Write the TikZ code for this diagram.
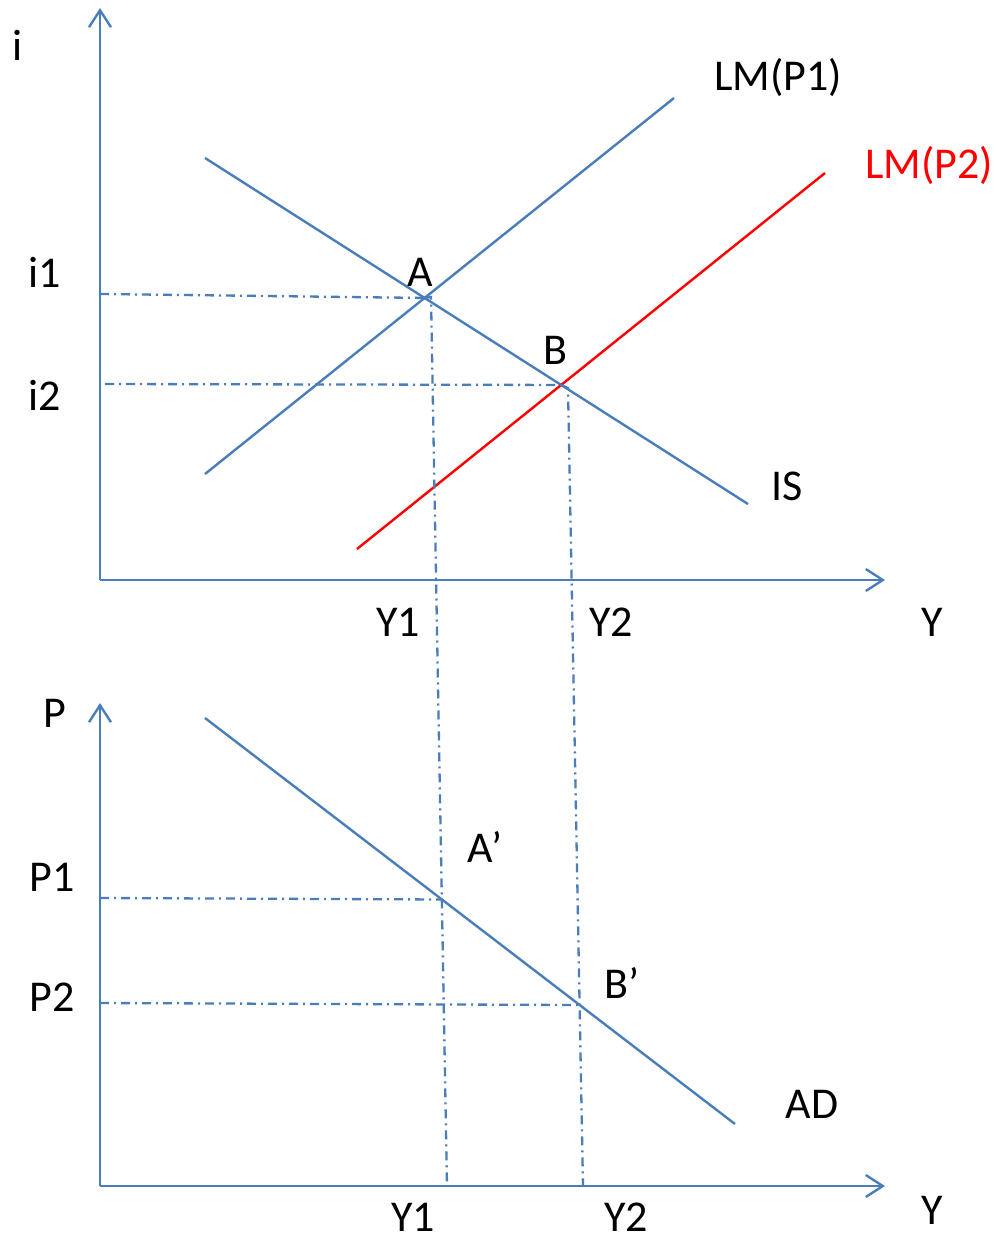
\documentclass[tikz,border=0pt]{standalone}
\usepackage{fontspec}
\setmainfont{Carlito}
\usetikzlibrary{arrows.meta}
\definecolor{lineblue}{RGB}{74,126,187}
\begin{document}
\begin{tikzpicture}[x=1pt,y=-1pt,
  axis/.style={draw=lineblue,line width=2.4pt,-{Straight Barb[length=17pt,width=22pt,line width=2.4pt]}},
  curve/.style={draw=lineblue,line width=2.4pt},
  redcurve/.style={draw=red,line width=2.4pt},
  guide/.style={draw=lineblue,line width=2.3pt,dash pattern=on 9pt off 5pt on 2pt off 5pt},
  lab/.style={font=\fontsize{44}{52}\selectfont,inner sep=0pt}]
\useasboundingbox (0,0) rectangle (999,1242);
% top axes
\coordinate (O1) at (100,580);
\coordinate (Itop) at (100,8);
\coordinate (Yend1) at (885,580);
\draw[axis] (O1) -- (Itop);
\draw[axis] (O1) -- (Yend1);
% bottom axes
\coordinate (O2) at (100,1186);
\coordinate (Ptop) at (100,703);
\coordinate (Yend2) at (885,1186);
\draw[axis] (O2) -- (Ptop);
\draw[axis] (O2) -- (Yend2);
% curves
\coordinate (IS1) at (205,158); \coordinate (IS2) at (748,504);
\coordinate (LMa1) at (205,474); \coordinate (LMa2) at (674,98);
\coordinate (LMb1) at (357,549); \coordinate (LMb2) at (825,173);
\coordinate (AD1) at (205,718); \coordinate (AD2) at (735,1124);
\draw[curve] (IS1) -- (IS2);
\draw[curve] (LMa1) -- (LMa2);
\draw[redcurve] (LMb1) -- (LMb2);
\draw[curve] (AD1) -- (AD2);
% equilibria
\coordinate (A) at (intersection of IS1--IS2 and LMa1--LMa2);
\coordinate (B) at (intersection of IS1--IS2 and LMb1--LMb2);
\coordinate (Av) at (431,297);
\coordinate (Bv) at (568,388);
\coordinate (Y1b) at (447,1186);
\coordinate (Y2b) at (583,1186);
\coordinate (Ap) at (intersection of Av--Y1b and AD1--AD2);
\coordinate (Bp) at (intersection of Bv--Y2b and AD1--AD2);
\coordinate (i1s) at (100,294);
\coordinate (i2s) at (105,384);
\coordinate (p1s) at (100,898);
\coordinate (p2s) at (100,1003);
\draw[guide] (i1s) -- (A);
\draw[guide] (i2s) -- (B);
\draw[guide] (A) -- (Av) -- (Y1b);
\draw[guide] (B) -- (Bv) -- (Y2b);
\draw[guide] (p1s) -- (Ap);
\draw[guide] (p2s) -- (Bp);
% labels
\node[lab] (li) at (18,45) {i};
\node[lab] (li1) at (45,272) {i1};
\node[lab] (li2) at (45,395) {i2};
\node[lab] (lLM1) at (778,77) {LM(P1)};
\node[lab,text=red] (lLM2) at (929,165) {LM(P2)};
\node[lab] (lA) at (420,272) {A};
\node[lab] (lB) at (555,350) {B};
\node[lab] (lIS) at (787,486) {IS};
\node[lab] (lY1a) at (398,622) {Y1};
\node[lab] (lY2a) at (611,622) {Y2};
\node[lab] (lYa) at (932,622) {Y};
\node[lab] (lP) at (55,713) {P};
\node[lab] (lP1) at (52,877) {P1};
\node[lab] (lP2) at (52,997) {P2};
\node[lab] (lAp) at (485,847) {A’};
\node[lab] (lBp) at (622,983) {B’};
\node[lab] (lAD) at (812,1104) {AD};
\node[lab] (lY1b) at (413,1217) {Y1};
\node[lab] (lY2b) at (626,1217) {Y2};
\node[lab] (lYb) at (932,1210) {Y};
\end{tikzpicture}
\end{document}
